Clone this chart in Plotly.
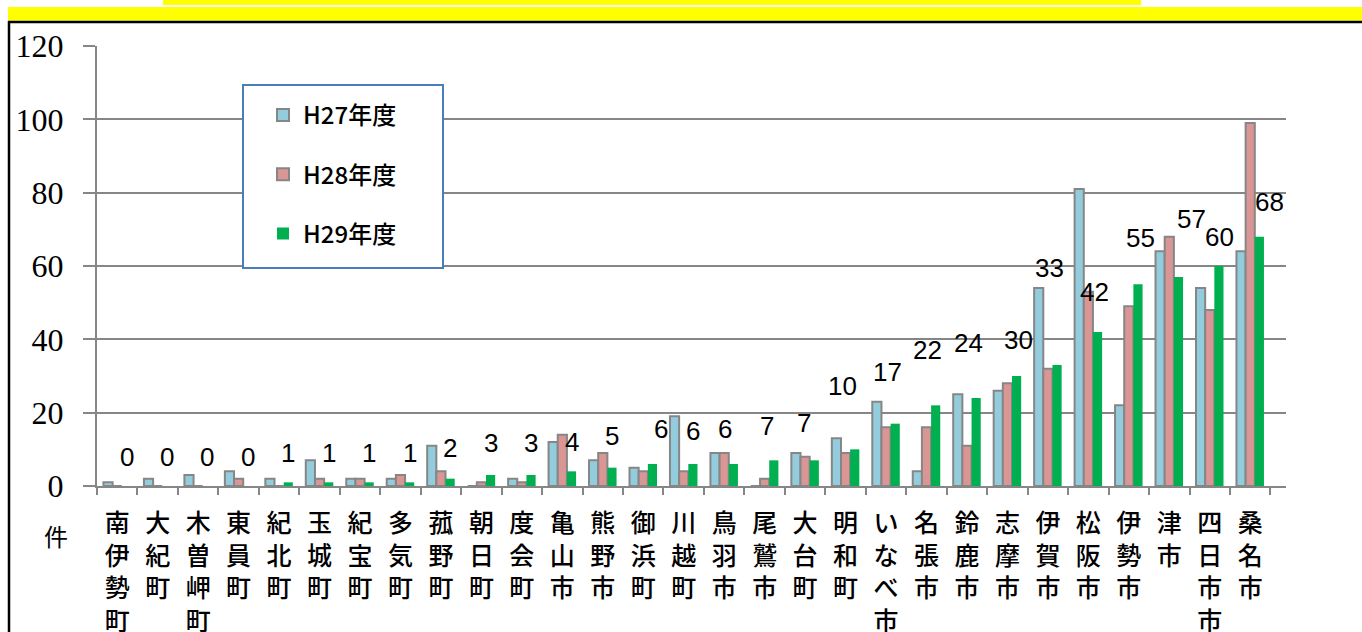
import plotly.graph_objects as go

# ---- data ----
categories = ['南伊勢町', '大紀町', '木曽岬町', '東員町', '紀北町', '玉城町', '紀宝町', '多気町',
              '菰野町', '朝日町', '度会町', '亀山市', '熊野市', '御浜町', '川越町', '鳥羽市',
              '尾鷲市', '大台町', '明和町', 'いなべ市', '名張市', '鈴鹿市', '志摩市', '伊賀市',
              '松阪市', '伊勢市', '津市', '四日市市', '桑名市']
h27 = [1, 2, 3, 4, 2, 7, 2, 2, 11, 0, 2, 12, 7, 5, 19, 9, 0, 9, 13, 23, 4, 25, 26, 54, 81, 22, 64, 54, 64]
h28 = [0, 0, 0, 2, 0, 2, 2, 3, 4, 1, 1, 14, 9, 4, 4, 9, 2, 8, 9, 16, 16, 11, 28, 32, 53, 49, 68, 48, 99]
h29 = [0, 0, 0, 0, 1, 1, 1, 1, 2, 3, 3, 4, 5, 6, 6, 6, 7, 7, 10, 17, 22, 24, 30, 33, 42, 55, 57, 60, 68]
series_names = ['H27年度', 'H28年度', 'H29年度']
y_ticks = [0, 20, 40, 60, 80, 100, 120]
unit_label = '件'

# ---- layout / style ----
W, H = 1362, 632
ML, MT = 97, 46
PW, PH = 1189, 440
MR = W - ML - PW
MB = H - MT - PH
BARGAP = 0.32
# label placement tweaks (pixels): horizontal nudge, height above bar top
label_dx = [0, 0, 0, 0, 0, 0, 0, 0, 0, 0, 0, 0, 0, 8, 0, -8, -7, -10, -12, -8, -8, -8, 2, -8, -3, 2, 13, 0, 10]
label_dy = [29, 29, 29, 29, 29, 29, 29, 29, 31, 32, 32, 29, 32, 35, 33, 35, 34, 37, 63, 52, 55, 55, 36,
            97, 40, 46, 58, 29, 35]

def px_x(px):
    return (px - ML) / PW

def px_y(py):
    return (MT + PH - py) / PH

GRID = '#868686'
cjk = 'Noto Sans CJK JP'

fig = go.Figure()
fills = ['#93cddd', '#d99694', '#00b050']
lines = [2, 2, 0]
for name, vals, col, lw in zip(series_names, [h27, h28, h29], fills, lines):
    fig.add_trace(go.Bar(
        x=categories, y=vals, name=name, legendgroup=name,
        marker=dict(color=col, line=dict(color=GRID, width=lw)),
    ))

# data labels for H29
cat_px = PW / len(categories)
bar_px = cat_px * (1 - BARGAP) / 3
annotations = []
for c, v, dx, dy in zip(categories, h29, label_dx, label_dy):
    annotations.append(dict(
        x=c, y=v, xref='x', yref='y', text=str(v), showarrow=False,
        xshift=bar_px + dx, yshift=dy, xanchor='center', yanchor='middle',
        font=dict(family='Liberation Sans, Arial, sans-serif', size=26, color='black'),
    ))
annotations.append(dict(
    x=px_x(56), y=px_y(535), xref='paper', yref='paper', text=unit_label, showarrow=False,
    xanchor='center', yanchor='middle', font=dict(family=cjk, size=24, color='black'),
))

shapes = [
    # top yellow strips
    dict(type='rect', xref='paper', yref='paper', x0=px_x(163), x1=px_x(1141), y0=px_y(5), y1=px_y(-2),
         fillcolor='#ffff00', line=dict(width=0), layer='below'),
    dict(type='rect', xref='paper', yref='paper', x0=px_x(8), x1=px_x(1380), y0=px_y(20.7), y1=px_y(7),
         fillcolor='#ffff00', line=dict(width=0), layer='below'),
    # black frame lines
    dict(type='line', xref='paper', yref='paper', x0=px_x(8), x1=px_x(1380), y0=px_y(22), y1=px_y(22),
         line=dict(color='black', width=2.5)),
    dict(type='line', xref='paper', yref='paper', x0=px_x(9), x1=px_x(9), y0=px_y(21), y1=px_y(660),
         line=dict(color='black', width=2.5)),
    # legend frame
    dict(type='rect', xref='paper', yref='paper', x0=px_x(243), x1=px_x(443), y0=px_y(268), y1=px_y(85),
         fillcolor='white', line=dict(color='#4a7ebb', width=2), layer='above'),
]

fig.update_layout(
    width=W, height=H, margin=dict(l=ML, r=MR, t=MT, b=MB, autoexpand=False),
    paper_bgcolor='white', plot_bgcolor='white',
    barmode='group', bargap=BARGAP, bargroupgap=0,
    showlegend=True,
    legend=dict(
        x=px_x(263), y=px_y(93), xanchor='left', yanchor='top',
        bgcolor='rgba(0,0,0,0)', borderwidth=0,
        font=dict(family=cjk, size=24, color='black', weight=500),
        tracegroupgap=25, itemwidth=30, itemclick=False,
    ),
    annotations=annotations,
    shapes=shapes,
    xaxis=dict(
        tickmode='array', tickvals=categories,
        ticktext=['<br>'.join(list(c)) for c in categories],
        tickfont=dict(family=cjk, size=25, color='black', weight=500),
        showline=True, linecolor=GRID, linewidth=2,
        ticks='outside', ticklen=7, tickcolor=GRID, tickwidth=2,
        tickson='boundaries', showgrid=False, tickangle=0,
        ticklabelstandoff=14,
    ),
    yaxis=dict(
        range=[0, 120], tickvals=y_ticks,
        tickfont=dict(family='Liberation Serif, Times New Roman, serif', size=32, color='black'),
        showgrid=True, gridcolor=GRID, gridwidth=2,
        showline=True, linecolor=GRID, linewidth=2,
        ticks='outside', ticklen=12, tickcolor=GRID, tickwidth=2,
        zeroline=False, ticklabelstandoff=13,
    ),
)

fig.write_html('out.html', config={'displayModeBar': False},
               post_script="document.body.style.margin='0px';")
